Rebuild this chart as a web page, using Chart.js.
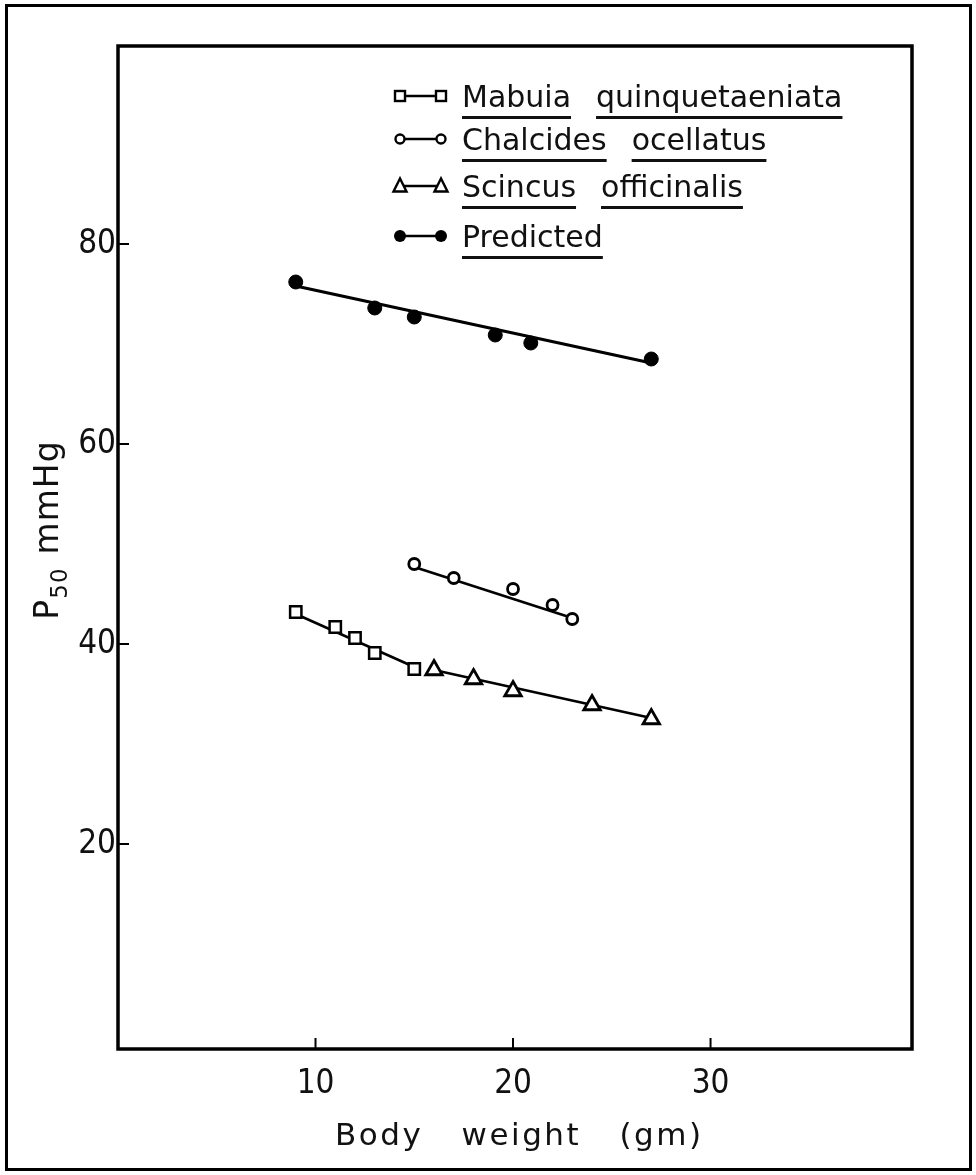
<!DOCTYPE html>
<html>
<head>
<meta charset="utf-8">
<script src="https://cdn.jsdelivr.net/npm/chart.js@4.4.1/dist/chart.umd.min.js"></script>
<style>
  html, body { margin: 0; padding: 0; background: #fff; }
  #wrap { position: relative; width: 976px; height: 1175px; overflow: hidden; background: #fff; }
  #frame { position: absolute; left: 5px; top: 4px; width: 967px; height: 1167px; box-sizing: border-box; border: 3px solid #000; }
  canvas { position: absolute; left: 0; top: 0; }
  .txt { position: absolute; font-family: "DejaVu Sans", sans-serif; color: #111; white-space: nowrap; }
  .leg { font-size: 30px; letter-spacing: 0; line-height: 1; }
  .leg span { text-decoration: underline; text-decoration-thickness: 2.5px; text-underline-offset: 9px; }
  .leg span + span { margin-left: 25px; }
  .legsvg { position: absolute; }
  #xtitle { font-size: 31px; letter-spacing: 2.5px; word-spacing: 26px; line-height: 1; }
  #ytitle { font-size: 33px; letter-spacing: 1px; line-height: 1; transform: translate(-50%, -50%) rotate(-90deg); }
  #ytitle sub { font-size: 23px; vertical-align: -9px; margin-right: 13px; }
</style>
</head>
<body>
<div id="wrap">
  <canvas id="c" width="976" height="1175"></canvas>
  <div id="frame"></div>
  <div id="legend"></div>
  <div id="xtitle" class="txt" style="left:335px; top:1119px;">Body weight (gm)</div>
  <div id="ytitle" class="txt" style="left:50px; top:530px;">P<sub>50</sub>mmHg</div>
</div>
<script>
// ---- data ----
const xTickValues = [10, 20, 30];
const yTickValues = [20, 40, 60, 80];

const seriesNames = ["Mabuia quinquetaeniata", "Chalcides ocellatus", "Scincus officinalis", "Predicted"];

const mabuiaX = [9, 11, 12, 13, 15];
const mabuiaY = [43.2, 41.7, 40.6, 39.1, 37.5];
const mabuiaFitX = [9, 15];
const mabuiaFitY = [43.0, 37.7];

const chalcidesX = [15, 17, 20, 22, 23];
const chalcidesY = [48.0, 46.6, 45.5, 43.9, 42.5];
const chalcidesFitX = [15, 23];
const chalcidesFitY = [47.7, 42.6];

const scincusX = [16, 18, 20, 24, 27];
const scincusY = [37.4, 36.5, 35.3, 33.9, 32.5];
const scincusFitX = [16, 27];
const scincusFitY = [37.4, 32.6];

const predictedX = [9, 13, 15, 19.1, 20.9, 27];
const predictedY = [76.2, 73.6, 72.7, 70.9, 70.1, 68.5];
const predictedFitX = [9, 27];
const predictedFitY = [75.8, 68.1];

const xTitle = "Body weight (gm)";

// ---- helpers ----
const pts = (xs, ys) => xs.map((x, i) => ({ x: x, y: ys[i] }));

function pointSet(label, xs, ys, style, radius, fill, bw) {
  return {
    label: label, data: pts(xs, ys), showLine: false,
    pointStyle: style, pointRadius: radius, pointHoverRadius: radius,
    pointBackgroundColor: fill, pointBorderColor: '#000', pointBorderWidth: bw, order: 0
  };
}
function fitSet(label, xs, ys, width) {
  return {
    label: label + ' fit', data: pts(xs, ys), showLine: true,
    borderColor: '#000', borderWidth: width, pointRadius: 0, fill: false, order: 1
  };
}

const frameAndTicks = {
  id: 'frameAndTicks',
  afterDraw(chart) {
    const ctx = chart.ctx, a = chart.chartArea;
    ctx.save();
    ctx.strokeStyle = '#000';
    ctx.lineWidth = 3.5;
    ctx.strokeRect(a.left, a.top, a.right - a.left, a.bottom - a.top);
    ctx.lineWidth = 2;
    const xs = chart.scales.x, ys = chart.scales.y;
    xs.ticks.forEach(t => {
      const px = xs.getPixelForValue(t.value);
      ctx.beginPath(); ctx.moveTo(px, a.bottom); ctx.lineTo(px, a.bottom - 11); ctx.stroke();
    });
    ys.ticks.forEach(t => {
      const py = ys.getPixelForValue(t.value);
      ctx.beginPath(); ctx.moveTo(a.left, py); ctx.lineTo(a.left + 11, py); ctx.stroke();
    });
    ctx.restore();
  }
};

const tickFont = { family: '"Liberation Sans Narrow", "DejaVu Sans Condensed", sans-serif', size: 33 };

new Chart(document.getElementById('c'), {
  type: 'scatter',
  data: {
    datasets: [
      fitSet(seriesNames[0], mabuiaFitX, mabuiaFitY, 2.5),
      fitSet(seriesNames[1], chalcidesFitX, chalcidesFitY, 2.5),
      fitSet(seriesNames[2], scincusFitX, scincusFitY, 2.5),
      fitSet(seriesNames[3], predictedFitX, predictedFitY, 3),
      pointSet(seriesNames[0], mabuiaX, mabuiaY, 'rect', 8, '#fff', 2.5),
      pointSet(seriesNames[1], chalcidesX, chalcidesY, 'circle', 5.5, '#fff', 2.8),
      pointSet(seriesNames[2], scincusX, scincusY, 'triangle', 9.5, '#fff', 2.8),
      pointSet(seriesNames[3], predictedX, predictedY, 'circle', 7, '#000', 1)
    ]
  },
  options: {
    responsive: false,
    animation: false,
    devicePixelRatio: 1,
    layout: { padding: { left: 0, top: 46, right: 64, bottom: 0 } },
    plugins: { legend: { display: false }, tooltip: { enabled: false } },
    scales: {
      x: {
        type: 'linear', min: 0, max: 40.2,
        afterBuildTicks: s => { s.ticks = xTickValues.map(v => ({ value: v })); },
        afterFit: s => { s.height = 1175 - 1049; },
        grid: { display: false, drawTicks: false },
        border: { display: false },
        ticks: { color: '#111', font: tickFont, padding: 16, maxRotation: 0 }
      },
      y: {
        type: 'linear', min: -0.5, max: 99.8,
        afterBuildTicks: s => { s.ticks = yTickValues.map(v => ({ value: v })); },
        afterFit: s => { s.width = 118; },
        grid: { display: false, drawTicks: false },
        border: { display: false },
        ticks: { color: '#111', font: tickFont, padding: 2 }
      }
    }
  },
  plugins: [frameAndTicks]
});

// ---- legend (HTML text, markers as small SVG) ----
const legendRows = [
  { words: ["Mabuia", "quinquetaeniata"], marker: 'square', top: 82 },
  { words: ["Chalcides", "ocellatus"], marker: 'circle', top: 125 },
  { words: ["Scincus", "officinalis"], marker: 'triangle', top: 172 },
  { words: ["Predicted"], marker: 'dot', top: 222 }
];
function markerSvg(kind) {
  let m;
  const s = 'stroke="#000" stroke-width="2.4"';
  if (kind === 'square') m = (cx) => `<rect x="${cx - 5}" y="5" width="10" height="10" fill="#fff" ${s}/>`;
  if (kind === 'circle') m = (cx) => `<circle cx="${cx}" cy="10" r="4.5" fill="#fff" ${s}/>`;
  if (kind === 'triangle') m = (cx) => `<polygon points="${cx},2.5 ${cx - 6.5},15.5 ${cx + 6.5},15.5" fill="#fff" ${s}/>`;
  if (kind === 'dot') m = (cx) => `<circle cx="${cx}" cy="10" r="6" fill="#000"/>`;
  return `<svg width="60" height="20" xmlns="http://www.w3.org/2000/svg"><line x1="9" y1="10" x2="50" y2="10" stroke="#000" stroke-width="2.4"/>${m(9)}${m(50)}</svg>`;
}
const legendEl = document.getElementById('legend');
legendRows.forEach(r => {
  const sv = document.createElement('div');
  sv.className = 'legsvg';
  sv.style.left = '391px';
  sv.style.top = (r.top + 4) + 'px';
  sv.innerHTML = markerSvg(r.marker);
  legendEl.appendChild(sv);
  const t = document.createElement('div');
  t.className = 'txt leg';
  t.style.left = '462px';
  t.style.top = r.top + 'px';
  t.innerHTML = r.words.map(w => `<span>${w}</span>`).join('');
  legendEl.appendChild(t);
});
document.getElementById('xtitle').textContent = xTitle;
</script>
</body>
</html>
